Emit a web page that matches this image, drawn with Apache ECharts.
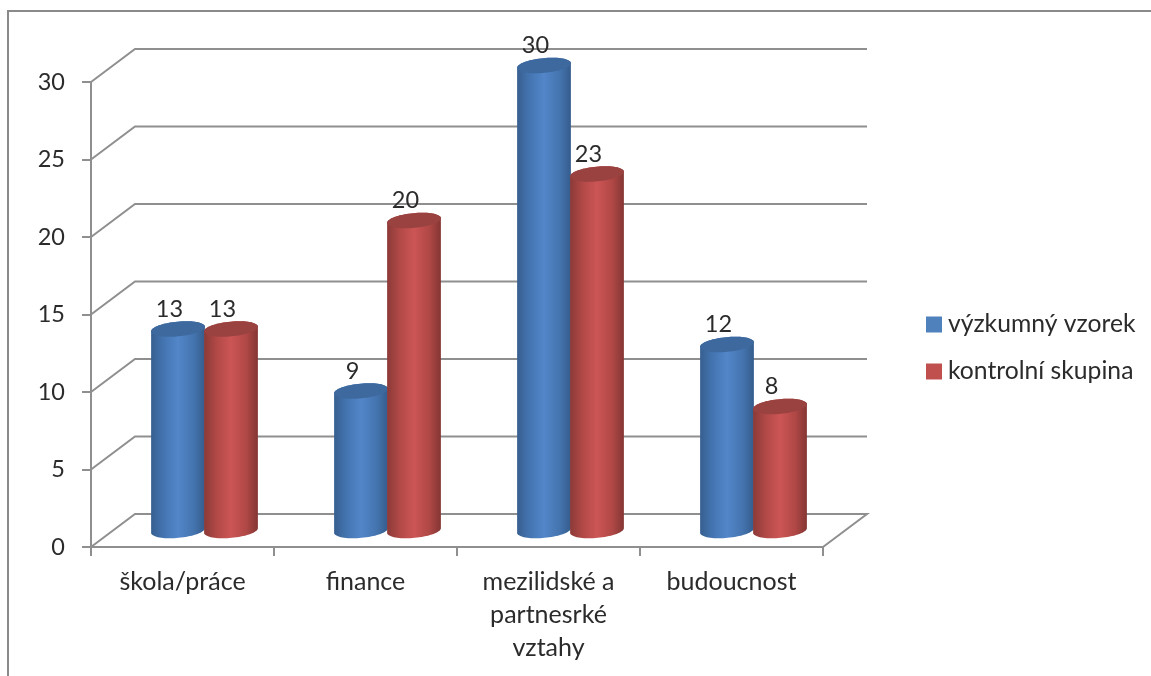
<!DOCTYPE html>
<html><head><meta charset="utf-8">
<style>html,body{margin:0;padding:0;background:#fff}#c{width:1151px;height:676px}</style>
<script src="https://cdn.jsdelivr.net/npm/echarts@6/dist/echarts.min.js"></script>
</head><body><div id="c"></div>
<script>
const categories = ['škola/práce', 'finance', 'mezilidské a\npartnesrké\nvztahy', 'budoucnost'];
const seriesNames = ['výzkumný vzorek', 'kontrolní skupina'];
const researchSample = [13, 9, 30, 12];
const controlGroup = [13, 20, 23, 8];
const yTicks = [0, 5, 10, 15, 20, 25, 30];

const FONT = 'Lato';
const TEXT = '#2b2b2b';
const LINE = '#8f8f8f';
const DX = 44, DY = 33;
const RX = 27, RY = 7.4, TILT = 5.3 * Math.PI / 180;

function ell(cx, cy, t) {
  const u = RX * Math.cos(t), v = RY * Math.sin(t);
  return [cx + u * Math.cos(TILT) + v * Math.sin(TILT), cy - u * Math.sin(TILT) + v * Math.cos(TILT)];
}
function gradient(edgeL, shoulderL, mid, shoulderR, edgeR) {
  return {type: 'linear', x: 0, y: 0, x2: 1, y2: 0, colorStops: [
    {offset: 0, color: edgeL}, {offset: 0.25, color: shoulderL}, {offset: 0.5, color: mid},
    {offset: 0.78, color: shoulderR}, {offset: 1, color: edgeR}]};
}
function cylinder(side, colors, top) {
  return function (params, api) {
    const cat = api.value(0), val = api.value(1);
    const cx = api.coord([cat, 0])[0] + DX / 2 + side * 26.5;
    const yb = api.coord([cat, 0])[1] - DY / 2;
    const yt = api.coord([cat, val])[1] - DY / 2;
    const body = [], cap = [];
    const n = 36;
    for (let i = 0; i <= n; i++) body.push(ell(cx, yb, Math.PI * i / n));
    for (let i = 0; i <= n; i++) body.push(ell(cx, yt, Math.PI + Math.PI * i / n));
    for (let i = 0; i < 2 * n; i++) cap.push(ell(cx, yt, Math.PI * i / n));
    return {type: 'group', children: [
      {type: 'polygon', shape: {points: body}, style: {fill: gradient.apply(null, colors)}},
      {type: 'polygon', shape: {points: cap}, style: {fill: top}},
      {type: 'text', x: cx - 8.5, y: yt - 20, style: {text: String(val), fill: TEXT, font: '23.5px ' + FONT, align: 'center', verticalAlign: 'middle'}}
    ]};
  };
}
function walls(params, api) {
  const t = api.value(0);
  const unit = api.size([1, 0])[0];
  const p = api.coord([0, t]);
  const left = p[0] - unit / 2;
  const right = left + unit * categories.length;
  const pts = [[left, p[1]], [left + DX, p[1] - DY], [right + DX, p[1] - DY]];
  if (t === 0) pts.push([right, p[1]]);
  return {type: 'polyline', shape: {points: pts}, style: {stroke: LINE, lineWidth: 2, fill: null}};
}

const chart = echarts.init(document.getElementById('c'), null, {renderer: 'canvas'});
chart.setOption({
  animation: false,
  backgroundColor: '#fff',
  grid: {left: 91, right: 328, top: 82, bottom: 129},
  xAxis: {
    type: 'category', data: categories,
    axisLine: {lineStyle: {color: LINE, width: 2}},
    axisTick: {show: true, length: 9, lineStyle: {color: LINE, width: 2}},
    axisLabel: {color: TEXT, fontFamily: FONT, fontSize: 25, lineHeight: 33, margin: 18, interval: 0}
  },
  yAxis: {
    type: 'value', min: 0, max: 30, interval: 5,
    axisLine: {show: true, lineStyle: {color: LINE, width: 2}},
    axisTick: {show: true, length: 9, lineStyle: {color: LINE, width: 2}},
    splitLine: {show: false},
    axisLabel: {color: TEXT, fontFamily: FONT, fontSize: 23.5, margin: 26, padding: [3, 0, 0, 0]}
  },
  legend: {
    data: seriesNames, orient: 'vertical', left: 921, top: 307, itemWidth: 16, itemHeight: 16, itemGap: 22,
    icon: 'rect', selectedMode: false,
    textStyle: {color: TEXT, fontFamily: FONT, fontSize: 24.7, padding: [0, 0, 0, 1]}
  },
  graphic: [{type: 'polyline', silent: true, shape: {points: [[8, 676], [8, 11], [1151, 11]]}, style: {stroke: '#8a8a8a', lineWidth: 2, fill: null}}],
  series: [
    {type: 'custom', name: 'walls', renderItem: walls, data: yTicks.map(t => [t]), encode: {y: 0}, clip: false, silent: true, z: 1},
    {type: 'custom', name: seriesNames[0], itemStyle: {color: '#4f81bd'}, clip: false, z: 2,
     renderItem: cylinder(-1, ['#375f90', '#4576b3', '#5286c9', '#4575b0', '#355d8d'], '#3e699e'),
     data: researchSample.map((v, i) => [i, v]), encode: {x: 0, y: 1}},
    {type: 'custom', name: seriesNames[1], itemStyle: {color: '#c0504d'}, clip: false, z: 3,
     renderItem: cylinder(1, ['#8c3a38', '#b34a48', '#cc5555', '#b04846', '#843634'], '#9a4240'),
     data: controlGroup.map((v, i) => [i, v]), encode: {x: 0, y: 1}}
  ]
});
</script></body></html>
